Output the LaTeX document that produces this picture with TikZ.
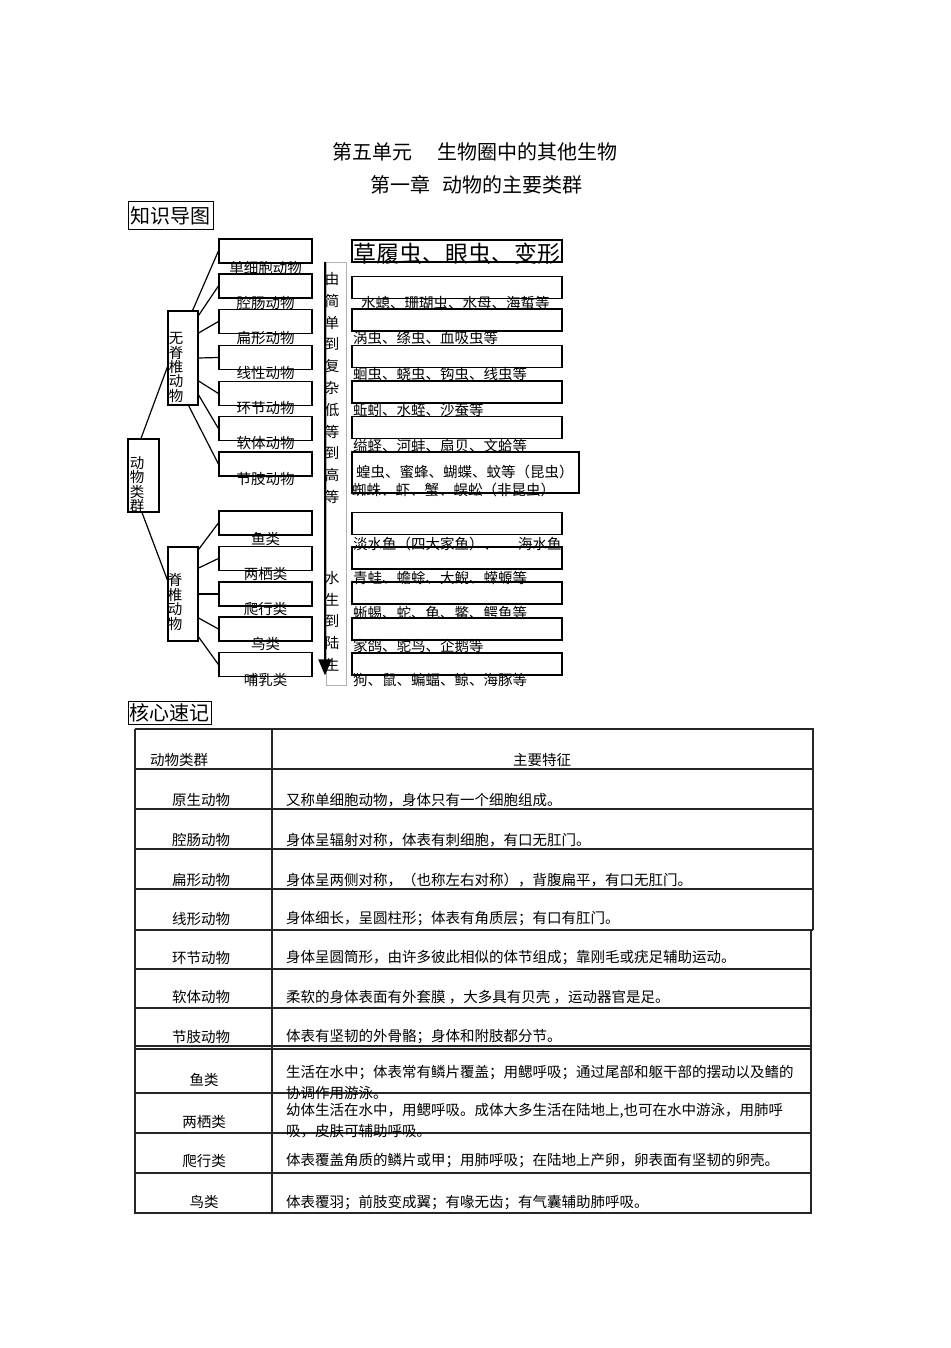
\documentclass[tikz,border=0pt]{standalone}
\usepackage{fontspec}
\setmainfont{Noto Sans CJK SC}
\usetikzlibrary{arrows.meta}
\begin{document}
\begin{tikzpicture}[x=1pt,y=-1pt,
  box/.style={draw, line width=1.2pt, inner sep=0pt},
  lbox/.style={box, minimum width=93pt, minimum height=24pt},
  rbox/.style={box, minimum width=210pt, minimum height=22pt},
  gbox/.style={box, minimum width=30pt, minimum height=94pt},
  lab/.style={inner sep=0pt, font=\fontsize{14.5}{14.5}\selectfont},
  rlab/.style={lab, anchor=west},
  big/.style={inner sep=0pt, font=\fontsize{20}{20}\selectfont},
  conn/.style={line width=1.2pt},
  tl/.style={line width=1.3pt, draw=black!85}
]
\useasboundingbox[fill=white] (0,0) rectangle (950,1348);

% titles
\node[big] (t1) at (475,152) {第五单元\hspace{25pt}生物圈中的其他生物};
\node[big] (t2) at (476,185) {第一章\hspace{12pt}动物的主要类群};

% section header boxes
\node[draw, line width=1pt, minimum width=85pt, minimum height=28pt, inner sep=0pt, font=\fontsize{20}{20}\selectfont] (kh1) at (170.5,216) {知识导图};
\node[draw, line width=1pt, minimum width=83pt, minimum height=23pt, inner sep=0pt, font=\fontsize{20}{20}\selectfont] (kh2) at (169.5,712.5) {核心速记};

% root and group boxes
\node[box, minimum width=31pt, minimum height=73pt] (root) at (143.5,475.5) {};
\node[gbox] (inv) at (183,358) {};
\node[gbox] (vert) at (183,594) {};
\foreach \c [count=\i] in {动,物,类,群}
  \node[lab] (rc\i) at (137,{463+(\i-1)*14.4}) {\c};
\foreach \c [count=\i] in {无,脊,椎,动,物}
  \node[lab] (ic\i) at (176,{338+(\i-1)*14.5}) {\c};
\foreach \c [count=\i] in {脊,椎,动,物}
  \node[lab] (vc\i) at (175,{580+(\i-1)*14.7}) {\c};

% left column boxes
\node[lbox] (b1) at (265.5,251) {};
\node[lbox] (b2) at (265.5,286) {};
\node[lbox] (b3) at (265.5,321.5) {};
\node[lbox] (b4) at (265.5,357.5) {};
\node[lbox] (b5) at (265.5,393.5) {};
\node[lbox] (b6) at (265.5,428.5) {};
\node[lbox] (b7) at (265.5,464) {};
\node[lbox] (v1) at (265.5,523) {};
\node[lbox] (v2) at (265.5,558.5) {};
\node[lbox] (v3) at (265.5,594) {};
\node[lbox] (v4) at (265.5,629) {};
\node[lbox] (v5) at (265.5,664.5) {};

\node[lab] (lb1) at (265.5,268) {单细胞动物};
\node[lab] (lb2) at (265.5,303) {腔肠动物};
\node[lab] (lb3) at (265.5,338) {扁形动物};
\node[lab] (lb4) at (265.5,373) {线性动物};
\node[lab] (lb5) at (265.5,408) {环节动物};
\node[lab] (lb6) at (265.5,443) {软体动物};
\node[lab] (lb7) at (265.5,479) {节肢动物};
\node[lab] (lv1) at (265.5,539) {鱼类};
\node[lab] (lv2) at (265.5,574) {两栖类};
\node[lab] (lv3) at (265.5,609) {爬行类};
\node[lab] (lv4) at (265.5,644) {鸟类};
\node[lab] (lv5) at (265.5,680) {哺乳类};

% connectors
\draw[conn] ([xshift=-2.5pt]root.north) -- ([yshift=-9pt]inv.west);
\draw[conn] ([xshift=-1.5pt]root.south) -- ([yshift=14pt]vert.west);
\draw[conn] ([xshift=-6pt]inv.north east) -- (b1.west);
\draw[conn] ([yshift=-5pt]inv.north east) -- (b2.west);
\draw[conn] ([yshift=25pt]inv.east) -- (b3.west);
\draw[conn] (inv.east) -- (b4.west);
\draw[conn] ([yshift=-23pt]inv.east) -- (b5.west);
\draw[conn] ([yshift=-37pt]inv.east) -- (b6.west);
\draw[conn] ([xshift=-10pt]inv.south east) -- (b7.west);
\draw[conn] ([yshift=-3pt]vert.north east) -- (v1.west);
\draw[conn] ([yshift=26pt]vert.east) -- (v2.west);
\draw[conn] (vert.east) -- (v3.west);
\draw[conn] ([yshift=-24pt]vert.east) -- (v4.west);
\draw[conn] ([yshift=-43pt]vert.east) -- (v5.west);

% middle column with arrow
\node[draw=black!30, line width=0.8pt, minimum width=20pt, minimum height=423pt, inner sep=0pt] (colr) at (336,473.5) {};
\coordinate (atop) at ([xshift=-11pt]colr.north);
\coordinate (abot) at ([xshift=-11pt,yshift=10pt]colr.south);
\draw[line width=2.2pt, -{Triangle[length=16pt,width=13pt]}] (atop) -- (abot);
\foreach \c [count=\i] in {由,简,单,到,复,杂,低,等,到,高,等}
  \node[lab] (s\i) at (332,{279+(\i-1)*21.8}) {\c};
\foreach \c [count=\i] in {水,生,到,陆,生}
  \node[lab] (w\i) at (332,{578+(\i-1)*21.7}) {\c};

% right column boxes
\node[rbox] (r1) at (457,251) {};
\node[rbox] (r2) at (457,287.5) {};
\node[rbox] (r3) at (457,320) {};
\node[rbox] (r4) at (457,356.5) {};
\node[rbox] (r5) at (457,392) {};
\node[rbox] (r6) at (457,427.5) {};
\node[box, minimum width=227pt, minimum height=41pt] (r7) at (465.5,472.5) {};
\node[rbox] (q1) at (457,523.5) {};
\node[rbox] (q2) at (457,558) {};
\node[rbox] (q3) at (457,593) {};
\node[rbox] (q4) at (457,629) {};
\node[rbox] (q5) at (457,664) {};

\node[inner sep=0pt, anchor=west, font=\fontsize{23}{23}\selectfont] (rt1) at (353,254) {草履虫、眼虫、变形};
\node[rlab] (rt2) at (361,303) {水螅、珊瑚虫、水母、海蜇等};
\node[rlab] (rt3) at (353,338) {涡虫、绦虫、血吸虫等};
\node[rlab] (rt4) at (353,374) {蛔虫、蛲虫、钩虫、线虫等};
\node[rlab] (rt5) at (353,410) {蚯蚓、水蛭、沙蚕等};
\node[rlab] (rt6) at (353,446) {缢蛏、河蚌、扇贝、文蛤等};
\node[rlab] (rt7a) at (356,472) {蝗虫、蜜蜂、蝴蝶、蚊等（昆虫）};
\node[rlab] (rt7b) at (352,490) {蜘蛛、虾、蟹、蜈蚣（非昆虫）};
\node[rlab] (qt1) at (353,544) {淡水鱼（四大家鱼）、\hspace{20pt}海水鱼};
\node[rlab] (qt2) at (353,578) {青蛙、蟾蜍、大鲵、蝾螈等};
\node[rlab] (qt3) at (353,613) {蜥蜴、蛇、龟、鳖、鳄鱼等};
\node[rlab] (qt4) at (353,646) {家鸽、鸵鸟、企鹅等};
\node[rlab] (qt5) at (353,680) {狗、鼠、蝙蝠、鲸、海豚等};

% table
\draw[tl] (135,729) -- (813,729) -- (813,930);
\draw[tl] (811,930) -- (811,1213) -- (135,1213) -- (135,729);
\draw[tl] (272,729) -- (272,1213);
\foreach \yy in {769,809,849,889,930}
  \draw[tl] (135,\yy) -- (813,\yy);
\foreach \yy in {969,1008,1046,1049,1093,1133,1173}
  \draw[tl] (135,\yy) -- (811,\yy);

\node[lab] (h1) at (179,760) {动物类群};
\node[lab] (h2) at (542,760) {主要特征};
\node[lab] (c1) at (201,800) {原生动物};
\node[lab] (c2) at (201,840) {腔肠动物};
\node[lab] (c3) at (201,880) {扁形动物};
\node[lab] (c4) at (201,919) {线形动物};
\node[lab] (c5) at (201,958) {环节动物};
\node[lab] (c6) at (201,997) {软体动物};
\node[lab] (c7) at (201,1037) {节肢动物};
\node[lab] (c8) at (204,1080) {鱼类};
\node[lab] (c9) at (204,1122) {两栖类};
\node[lab] (c10) at (204,1161) {爬行类};
\node[lab] (c11) at (204,1202) {鸟类};

\node[rlab] (d1) at (286,800) {又称单细胞动物，身体只有一个细胞组成。};
\node[rlab] (d2) at (286,840) {身体呈辐射对称，体表有刺细胞，有口无肛门。};
\node[rlab] (d3) at (286,880) {身体呈两侧对称，（也称左右对称），背腹扁平，有口无肛门。};
\node[rlab] (d4) at (286,919) {身体细长，呈圆柱形；体表有角质层；有口有肛门。};
\node[rlab] (d5) at (286,958) {身体呈圆筒形，由许多彼此相似的体节组成；靠刚毛或疣足辅助运动。};
\node[rlab] (d6) at (286,997) {柔软的身体表面有外套膜 ，大多具有贝壳 ，运动器官是足。};
\node[rlab] (d7) at (286,1037) {体表有坚韧的外骨骼；身体和附肢都分节。};
\node[rlab] (d8a) at (286,1073) {生活在水中；体表常有鳞片覆盖；用鳃呼吸；通过尾部和躯干部的摆动以及鳍的};
\node[rlab] (d8b) at (286,1093) {协调作用游泳。};
\node[rlab] (d9a) at (286,1111) {幼体生活在水中，用鳃呼吸。成体大多生活在陆地上,也可在水中游泳，用肺呼};
\node[rlab] (d9b) at (286,1131) {吸，皮肤可辅助呼吸。};
\node[rlab] (d10) at (286,1161) {体表覆盖角质的鳞片或甲；用肺呼吸；在陆地上产卵，卵表面有坚韧的卵壳。};
\node[rlab] (d11) at (286,1202) {体表覆羽；前肢变成翼；有喙无齿；有气囊辅助肺呼吸。};
\end{tikzpicture}
\end{document}
